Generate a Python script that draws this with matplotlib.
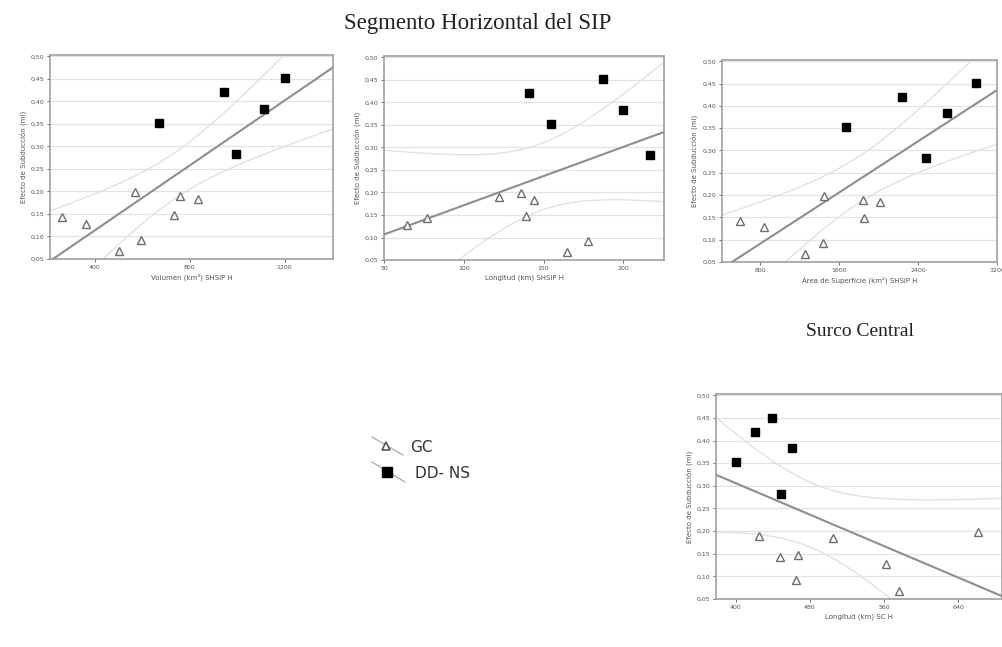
import numpy as np
import matplotlib
matplotlib.use("Agg")
import matplotlib.pyplot as plt
from matplotlib.ticker import FuncFormatter

# Efecto de subduccion (eje y), compartido por los cuatro paneles
y_gc = [0.143, 0.128, 0.067, 0.198, 0.092, 0.148, 0.190, 0.184]
y_dd = [0.353, 0.420, 0.283, 0.383, 0.451]

# Variables x de cada panel (mismo orden que y_gc / y_dd)
vol_gc = [262, 360, 499, 568, 592, 734, 758, 835]
vol_dd = [668, 945, 994, 1113, 1204]

lon_gc = [76.9, 64.2, 164.6, 136, 177.7, 139, 122.3, 143.8]
lon_dd = [155, 140.8, 216.7, 200, 187.5]

area_gc = [599, 834, 1253, 1444, 1437, 1850, 1837, 2015]
area_dd = [1669, 2236, 2478, 2692, 2987]

sc_gc = [448.4, 562.3, 575.6, 660.8, 465.6, 467.4, 425.1, 505.0]
sc_dd = [400, 421.5, 448.7, 460.5, 439]

etiqueta_y = "Efecto de Subducción (mi)"
t_student = 2.201  # 95 %, 11 g.l.

def panel(fig, rect, xg, xd, xlim, xticks, xlabel):
    ax = fig.add_axes(rect)
    x = np.array(xg + xd, dtype=float)
    y = np.array(y_gc + y_dd)
    # ajuste lineal y bandas de confianza
    b, a = np.polyfit(x, y, 1)
    xx = np.linspace(xlim[0], xlim[1], 200)
    yy = a + b * xx
    n = len(x)
    s = np.sqrt(np.sum((y - (a + b * x)) ** 2) / (n - 2))
    sxx = np.sum((x - x.mean()) ** 2)
    ci = t_student * s * np.sqrt(1 / n + (xx - x.mean()) ** 2 / sxx)
    ax.plot(xx, yy + ci, color="#e2e2e2", lw=1.0, zorder=2)
    ax.plot(xx, yy - ci, color="#e2e2e2", lw=1.0, zorder=2)
    ax.plot(xx, yy, color="#8e8e8e", lw=1.5, zorder=3)

    ax.plot(xg, y_gc, "^", ms=5.5, mfc="white", mec="#6e6e6e", mew=1.0, zorder=4)
    ax.plot(xd, y_dd, "s", ms=6, mfc="black", mec="black", zorder=4)

    ax.set_xlim(xlim)
    ax.set_ylim(0.05, 0.503)
    ax.set_xticks(xticks)
    ax.set_yticks(np.arange(0.05, 0.501, 0.05))
    ax.yaxis.set_major_formatter(FuncFormatter(lambda v, p: f"{v:.2f}".replace(".", ",")))
    ax.grid(axis="y", color="#e3e3e3", lw=0.9)
    ax.set_axisbelow(True)
    for sp in ax.spines.values():
        sp.set_color("#a0a0a0")
        sp.set_linewidth(1.2)
    ax.tick_params(labelsize=4.5, colors="#555555", length=2, width=0.6, pad=2)
    ax.set_xlabel(xlabel, fontsize=5, color="#555555", labelpad=3)
    ax.set_ylabel(etiqueta_y, fontsize=5, color="#555555", labelpad=3)
    return ax

fig = plt.figure(figsize=(10.03, 6.47), dpi=100)

panel(fig, [0.0499, 0.5997, 0.2822, 0.3153], vol_gc, vol_dd, (210, 1405),
      [400, 800, 1200], "Volumen (km³) SHSIP H")
panel(fig, [0.3829, 0.5981, 0.2792, 0.3153], lon_gc, lon_dd, (50, 225.6),
      [50, 100, 150, 200], "Longitud (km) SHSIP H")
panel(fig, [0.7198, 0.5951, 0.2742, 0.3122], area_gc, area_dd, (411, 3190),
      [800, 1600, 2400, 3200], "Área de Superficie (km²) SHSIP H")
panel(fig, [0.7139, 0.0742, 0.2851, 0.3168], sc_gc, sc_dd, (379, 687),
      [400, 480, 560, 640], "Longitud (km) SC H")

fig.text(0.476, 0.964, "Segmento Horizontal del SIP", ha="center", va="center",
         fontsize=16.5, family="Liberation Serif", color="#222222")
fig.text(0.857, 0.488, "Surco Central", ha="center", va="center",
         fontsize=14, family="Liberation Serif", color="#222222")

# leyenda
lg = fig.add_axes([0, 0, 1, 1], facecolor="none")
lg.set_xlim(0, 1003)
lg.set_ylim(647, 0)
lg.axis("off")
lg.plot([372, 403], [437, 455], color="#b0b0b0", lw=1)
lg.plot([386], [446], "^", ms=6, mfc="white", mec="#555555", mew=1.2)
lg.text(410, 447, "GC", fontsize=11, va="center", color="#333333")
lg.plot([372, 405], [462, 482], color="#b0b0b0", lw=1)
lg.plot([387], [471.5], "s", ms=6.5, color="black")
lg.text(415, 473, "DD- NS", fontsize=11, va="center", color="#333333")

fig.savefig("out.png", dpi=100)
